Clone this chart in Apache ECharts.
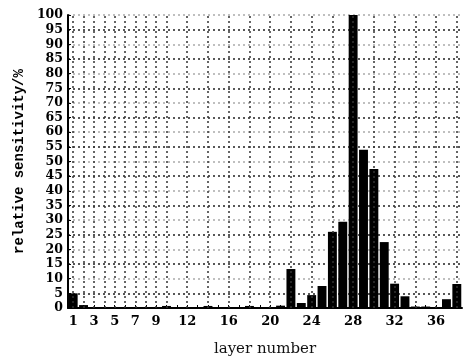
<!DOCTYPE html>
<html>
<head>
<meta charset="utf-8">
<script src="https://cdn.jsdelivr.net/npm/echarts@6/dist/echarts.min.js"></script>
<style>
html,body{margin:0;padding:0;background:#fff;}
#c{width:467px;height:359px;}
</style>
</head>
<body>
<div id="c"></div>
<script>
const layers = Array.from({length: 38}, (_, i) => String(i + 1));
const sensitivity = [5, 1, 0.3, 0.3, 0.3, 0.3, 0.3, 0.3, 0.3, 0.7,
  0.2, 0.2, 0.2, 0.7, 0.2, 0.2, 0.2, 0.7, 0.3, 0.3,
  0.8, 13.3, 1.7, 4.4, 7.5, 26, 29.4, 100, 54, 47.4,
  22.5, 8.3, 4, 0.5, 0.5, 0.2, 3, 8.2];
const shownLabels = ['1', '3', '5', '7', '9', '12', '16', '20', '24', '28', '32', '36'];
const gridLayers = ['1','2','3','4','5','6','7','8','9','10','12','14','16','18','20','22','24','26','28','30','32','34','36','38'];

const chart = echarts.init(document.getElementById('c'), null, {renderer: 'canvas'});
chart.setOption({
  animation: false,
  backgroundColor: '#fff',
  grid: {left: 68, right: 5, top: 15, bottom: 51, containLabel: false, outerBoundsMode: 'none'},
  xAxis: {
    type: 'category',
    data: layers,
    boundaryGap: true,
    name: 'layer number',
    nameLocation: 'middle',
    nameGap: 34,
    nameTextStyle: {fontFamily: 'DejaVu Serif', fontSize: 15, color: '#111'},
    axisLine: {lineStyle: {color: '#000', width: 2}},
    axisTick: {show: true, interval: 0, alignWithLabel: true, length: 3, inside: true, lineStyle: {color: '#000'}},
    axisLabel: {
      interval: (idx, val) => shownLabels.includes(val),
      fontFamily: 'DejaVu Serif', fontWeight: 'bold', fontSize: 13, color: '#000', margin: 7
    },
    splitLine: {show: false}
  },
  yAxis: {
    type: 'value',
    min: 0, max: 100, interval: 5,
    name: 'relative sensitivity/%',
    nameLocation: 'middle',
    nameGap: 42,
    nameRotate: 90,
    nameTextStyle: {fontFamily: 'Liberation Mono', fontWeight: 'bold', fontSize: 14, color: '#000'},
    axisLine: {show: true, lineStyle: {color: '#000', width: 2}},
    axisTick: {show: true, inside: true, length: 3, lineStyle: {color: '#000'}},
    axisLabel: {fontFamily: 'DejaVu Serif', fontWeight: 'bold', fontSize: 12.5, color: '#000', margin: 5},
    splitLine: {show: true, lineStyle: {type: [2, 3], width: 1.5, color: ['#aaa', '#222']}}
  },
  series: [{
    type: 'bar',
    data: sensitivity,
    barWidth: '86%',
    itemStyle: {color: '#000'},
    markLine: {
      silent: true,
      symbol: 'none',
      label: {show: false},
      lineStyle: {type: [2, 3], width: 1.5, color: '#333'},
      data: gridLayers.map(l => ({xAxis: l}))
    }
  }]
});
</script>
</body>
</html>
